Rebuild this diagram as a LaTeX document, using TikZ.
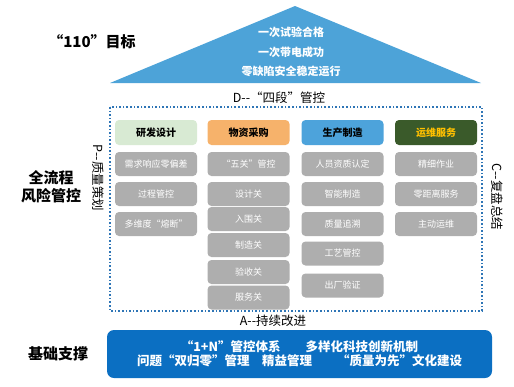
\documentclass[tikz,border=0pt]{standalone}
\usepackage{fontspec}
\usepackage{xcolor}
\setmainfont{Noto Sans CJK SC}

\definecolor{topblue}{HTML}{4DA3D8}
\definecolor{basblue}{HTML}{0B6FC2}
\definecolor{dotblue}{HTML}{2E75B6}
\definecolor{cellgray}{HTML}{AEAEAE}
\definecolor{hdgreen}{HTML}{D8EAD3}
\definecolor{hdorange}{HTML}{F6B26B}
\definecolor{hdblue}{HTML}{4DA3DB}
\definecolor{hddark}{HTML}{3A5A2A}
\definecolor{hdyellow}{HTML}{FFC000}

\begin{document}
\begin{tikzpicture}[x=1pt,y=-1pt,
  cell/.style={fill=cellgray,rounded corners=4pt,minimum width=82pt,minimum height=24pt,
    text=white,font=\fontsize{9}{10}\selectfont,inner sep=0pt},
  head/.style={rounded corners=4pt,minimum width=82pt,minimum height=25pt,
    font=\fontsize{10}{11}\selectfont\bfseries,inner sep=0pt},
  side/.style={font=\fontsize{12.5}{14}\selectfont,inner sep=0pt},
  title/.style={font=\fontsize{15}{18}\selectfont\bfseries,align=center,inner sep=0pt}]

\useasboundingbox (0,0) rectangle (514,386);

\fill[topblue] (295,6) -- (481,83) -- (110,83) -- cycle;
\node[text=white,font=\fontsize{11}{12}\selectfont\bfseries] (g1) at (291,32) {一次试验合格};
\node[text=white,font=\fontsize{11}{12}\selectfont\bfseries] (g2) at (291,52) {一次带电成功};
\node[text=white,font=\fontsize{11}{12}\selectfont\bfseries] (g3) at (291,71) {零缺陷安全稳定运行};
\node[title] (goal) at (92,42) {“110”目标};

\node[side] (D) at (279,98) {D-{}-“四段”管控};
\draw[dotblue,line width=1.6pt,dotted] (110,107) rectangle (482,311);

\node[title] (risk) at (51,187) {全流程\\风险管控};
\node[side,rotate=-90] (P) at (98,178) {P-{}-质量策划};
\node[side,rotate=-90] (C) at (497,197) {C-{}-复盘总结};

\node[head,fill=hdgreen] (h1) at (156,132.5) {研发设计};
\node[head,fill=hdorange] (h2) at (248.5,132.5) {物资采购};
\node[head,fill=hdblue] (h3) at (342.5,132.5) {生产制造};
\node[head,fill=hddark,text=hdyellow] (h4) at (436,132.5) {运维服务};

\node[cell] (a1) at (156,164) {需求响应零偏差};
\node[cell] (a2) at (156,194) {过程管控};
\node[cell] (a3) at (156,224) {多维度“熔断”};

\node[cell] (b1) at (248.5,164) {“五关”管控};
\node[cell] (b2) at (248.5,194) {设计关};
\node[cell] (b3) at (248.5,219) {入围关};
\node[cell] (b4) at (248.5,245) {制造关};
\node[cell] (b5) at (248.5,272) {验收关};
\node[cell] (b6) at (248.5,297.5) {服务关};

\node[cell] (c1) at (342.5,164) {人员资质认定};
\node[cell] (c2) at (342.5,194) {智能制造};
\node[cell] (c3) at (342.5,224) {质量追溯};
\node[cell] (c4) at (342.5,253.5) {工艺管控};
\node[cell] (c5) at (342.5,285.5) {出厂验证};

\node[cell] (d1) at (436,164) {精细作业};
\node[cell] (d2) at (436,194) {零距离服务};
\node[cell] (d3) at (436,224) {主动运维};

\node[side] (A) at (273,321) {A-{}-持续改进};

\node[fill=basblue,rounded corners=7pt,minimum width=385pt,minimum height=48pt] (base) at (299.5,354) {};
\node[text=white,font=\fontsize{12.5}{14}\selectfont\bfseries,align=center] (bt) at (299.5,354)
  {“1+N”管控体系\hspace{2em}多样化科技创新机制\\问题“双归零”管理\hspace{1em}精益管理\hspace{2em}“质量为先”文化建设};
\node[title] (support) at (58,354) {基础支撑};

\end{tikzpicture}
\end{document}
